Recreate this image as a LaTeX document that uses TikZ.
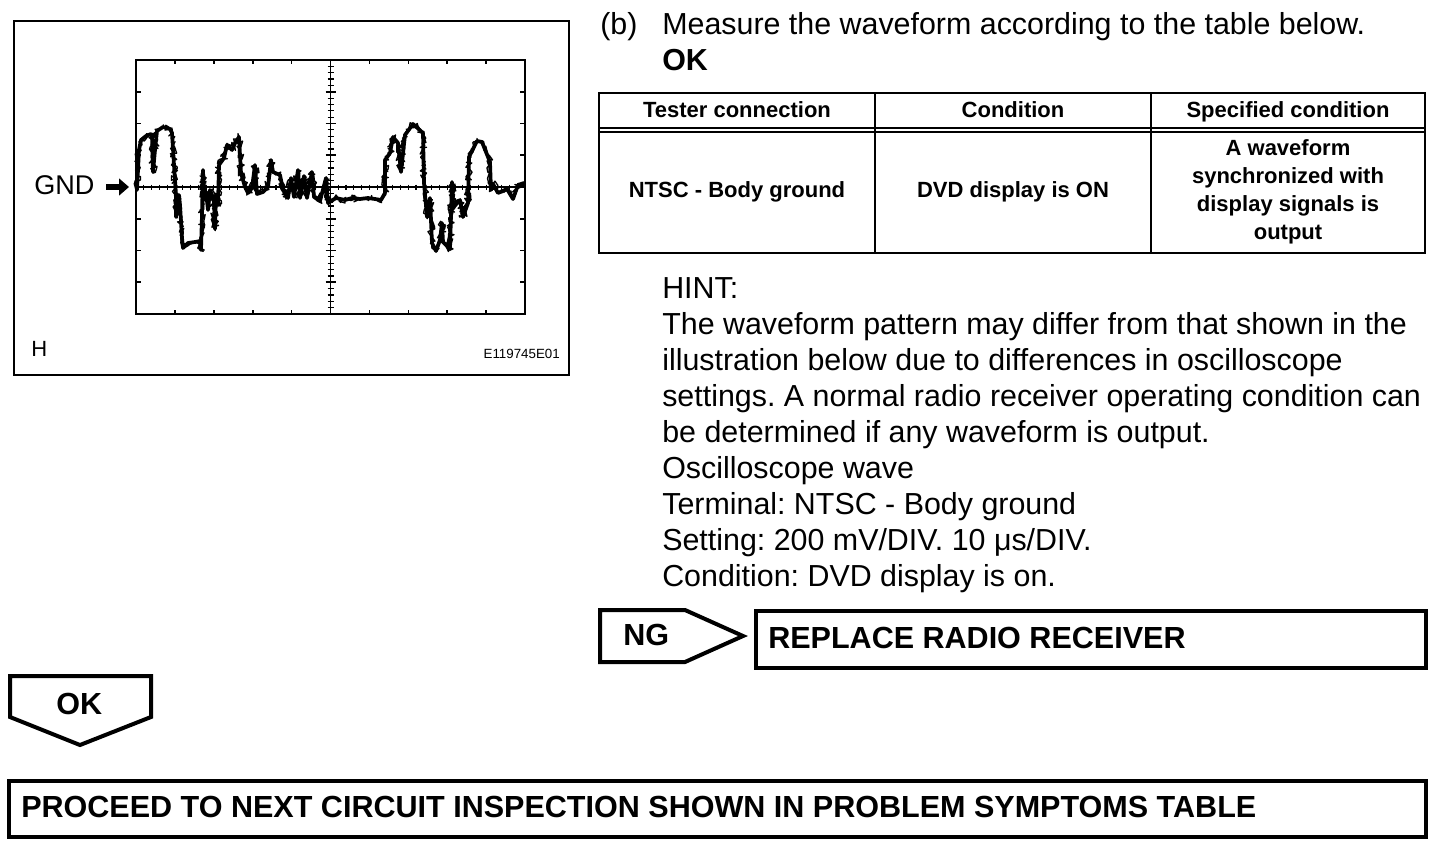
\documentclass[tikz,border=0pt]{standalone}
\usepackage{fontspec}
\usepackage{tikz}
\setmainfont{Liberation Sans}
\usetikzlibrary{arrows.meta}
\usetikzlibrary{decorations.pathmorphing}
\tikzset{
	bodytext/.style = {
		anchor     = north west,
		inner sep  = 0pt,
		align      = left,
		font       = \fontsize{22.8pt}{27pt}\selectfont\frenchspacing,
	},
	cellhead/.style = {
		inner sep  = 0pt,
		align      = center,
		font       = \fontsize{16.5pt}{21pt}\selectfont\bfseries,
	},
	bannertext/.style = {
		anchor     = base west,
		inner sep  = 0pt,
		font       = \fontsize{22.9pt}{28pt}\selectfont\bfseries,
	},
	heavybox/.style = {
		line width = 3pt,
		line join  = miter,
	},
	wavetrace/.style = {
		line join  = round,
		line cap   = round,
	},
}
\newcommand{\wavepath}{
	(137, 190) -- (139, 150) -- (141, 140) -- (146, 136) -- (151, 134) -- (152, 135)
	-- (153, 172) -- (155, 150) -- (157, 131) -- (163, 127) -- (170, 129) -- (172, 133)
	-- (174, 165) -- (176, 195) -- (176, 217) -- (179, 195) -- (180, 205) -- (182, 238)
	-- (183, 248) -- (188, 243) -- (195, 242) -- (200, 241) -- (201, 250) -- (202, 215)
	-- (203, 170) -- (204, 200) -- (206, 192) -- (208, 210) -- (210, 190) -- (214, 200)
	-- (215, 229) -- (216, 195) -- (218, 205) -- (219, 165) -- (224, 158) -- (227, 145)
	-- (232, 150) -- (235, 143) -- (239, 137) -- (241, 173) -- (245, 187) -- (248, 193)
	-- (252, 188) -- (255, 165) -- (257, 194) -- (263, 192) -- (268, 187) -- (271, 160)
	-- (273, 172) -- (280, 175) -- (283, 190) -- (288, 198) -- (291, 178) -- (294, 197)
	-- (298, 170) -- (300, 198) -- (304, 176) -- (307, 198) -- (312, 172) -- (314, 197)
	-- (320, 201) -- (326, 178) -- (328, 203) -- (336, 198) -- (345, 200) -- (352, 198)
	-- (360, 199) -- (368, 198) -- (375, 199) -- (381, 200) -- (385, 193)
	-- (385, 160) -- (390, 153) -- (393, 137) -- (398, 143) -- (401, 172) -- (405, 135)
	-- (413, 124) -- (423, 133) -- (424, 183) -- (427, 217) -- (430, 198) -- (432, 243)
	-- (436, 251) -- (440, 240) -- (442, 223) -- (443, 242) -- (450, 249) -- (452, 182)
	-- (453, 207) -- (460, 200) -- (463, 217) -- (468, 203) -- (469, 157) -- (477, 141)
	-- (482, 142) -- (490, 162) -- (491, 190) -- (493, 184) -- (498, 193) -- (507, 189)
	-- (513, 199) -- (518, 185) -- (524, 183)
}

\begin{document}
\begin{tikzpicture}[x = 0.75pt, y = -0.75pt]
	\useasboundingbox (0, 0) rectangle (1456, 850);

	% oscilloscope panel
	\draw[line width = 2.2pt] (14, 21) rectangle (569, 375);
	\draw[line width = 1.9pt] (136, 60) rectangle (525, 314);

	\foreach \i in {1, ..., 9} {
		\draw[line width = 1.2pt] (136 + 38.9*\i, 60) -- ++(0, 4);
		\draw[line width = 1.2pt] (136 + 38.9*\i, 314) -- ++(0, -4);
	}
	\foreach \i in {1, ..., 7} {
		\draw[line width = 1.2pt] (136, 60 + 31.75*\i) -- ++(5, 0);
		\draw[line width = 1.2pt] (525, 60 + 31.75*\i) -- ++(-5, 0);
	}

	% centre axes
	\draw[line width = 1pt] (136, 187) -- (525, 187);
	\draw[line width = 1pt] (330.5, 60) -- (330.5, 314);
	\foreach \i in {1, ..., 49} {
		\draw[line width = 0.9pt] (136 + 7.78*\i, 184.5) -- ++(0, 5);
	}
	\foreach \i in {1, ..., 39} {
		\draw[line width = 0.9pt] (327.5, 60 + 6.35*\i) -- ++(6, 0);
	}
	\foreach \i in {1, ..., 7} {
		\draw[line width = 1.3pt] (325.5, 60 + 31.75*\i) -- ++(10, 0);
	}

	% waveform
	\pgfmathsetseed{41}
	\draw[wavetrace, line width = 2.8pt] \wavepath;
	\draw[wavetrace, line width = 1pt, decorate,
		decoration = {random steps, segment length = 1.1pt, amplitude = 2.7pt}] \wavepath;

	% panel labels
	\node (GND) [bodytext, anchor = base west, font = \fontsize{20.3pt}{24pt}\selectfont] at (34, 194) {GND};
	\coordinate (GNDtip) at (129, 187);
	\draw[line width = 4.6pt, -{Triangle[length = 7.5pt, width = 12.5pt]}] (106, 187) -- (GNDtip);
	\node (panelid) [anchor = base west, inner sep = 0pt, font = \fontsize{16.5pt}{20pt}\selectfont] at (31, 356) {H};
	\node (figid) [anchor = base east, inner sep = 0pt, font = \fontsize{10pt}{12pt}\selectfont] at (560, 358) {E119745E01};

	% measuring step
	\node (stepmark) [bodytext, anchor = base west] at (600, 34) {(b)};
	\node (steptext) [bodytext, anchor = base west] at (662, 34) {Measure the waveform according to the table below.};
	\node (stepok)   [bodytext, anchor = base west, font = \fontsize{22.8pt}{27pt}\selectfont\bfseries] at (662, 70) {OK};

	% table
	\draw[line width = 1.6pt] (599, 93) rectangle (1425, 253);
	\draw[line width = 1.6pt] (599, 128) -- (1425, 128);
	\draw[line width = 1.6pt] (599, 132) -- (1425, 132);
	\draw[line width = 1.6pt] (875, 93) -- (875, 253);
	\draw[line width = 1.6pt] (1151, 93) -- (1151, 253);

	\node (headA) [cellhead, anchor = base] at (737, 117) {Tester connection};
	\node (headB) [cellhead, anchor = base] at (1013, 117) {Condition};
	\node (headC) [cellhead, anchor = base] at (1288, 117) {Specified condition};
	\node (cellA) [cellhead, anchor = base] at (737, 197) {NTSC - Body ground};
	\node (cellB) [cellhead, anchor = base] at (1013, 197) {DVD display is ON};
	\node (cellC) [cellhead] at (1288, 192) {A waveform\\synchronized with\\display signals is\\output};

	% hint text
	\node (hint) [bodytext] at (662, 277) {HINT:\\
		The waveform pattern may differ from that shown in the\\
		illustration below due to differences in oscilloscope\\
		settings. A normal radio receiver operating condition can\\
		be determined if any waveform is output.\\
		Oscilloscope wave\\
		Terminal: NTSC - Body ground\\
		Setting: 200 mV/DIV. 10 μs/DIV.\\
		Condition: DVD display is on.};

	% result flags and boxes
	\draw[heavybox] (600, 610) -- (685, 610) -- (743, 636) -- (685, 662) -- (600, 662) -- cycle;
	\node (NGflag) [bannertext] at (623, 645) {NG};
	\draw[heavybox] (756, 611) rectangle (1426, 668);
	\node (replace) [bannertext] at (768, 648) {REPLACE RADIO RECEIVER};

	\draw[heavybox] (10, 676) -- (151, 676) -- (151, 717) -- (80, 745) -- (10, 717) -- cycle;
	\node (OKflag) [bannertext] at (56, 714) {OK};
	\draw[heavybox] (9, 781) rectangle (1426, 837);
	\node (proceed) [bannertext] at (21, 817) {PROCEED TO NEXT CIRCUIT INSPECTION SHOWN IN PROBLEM SYMPTOMS TABLE};
\end{tikzpicture}
\end{document}
